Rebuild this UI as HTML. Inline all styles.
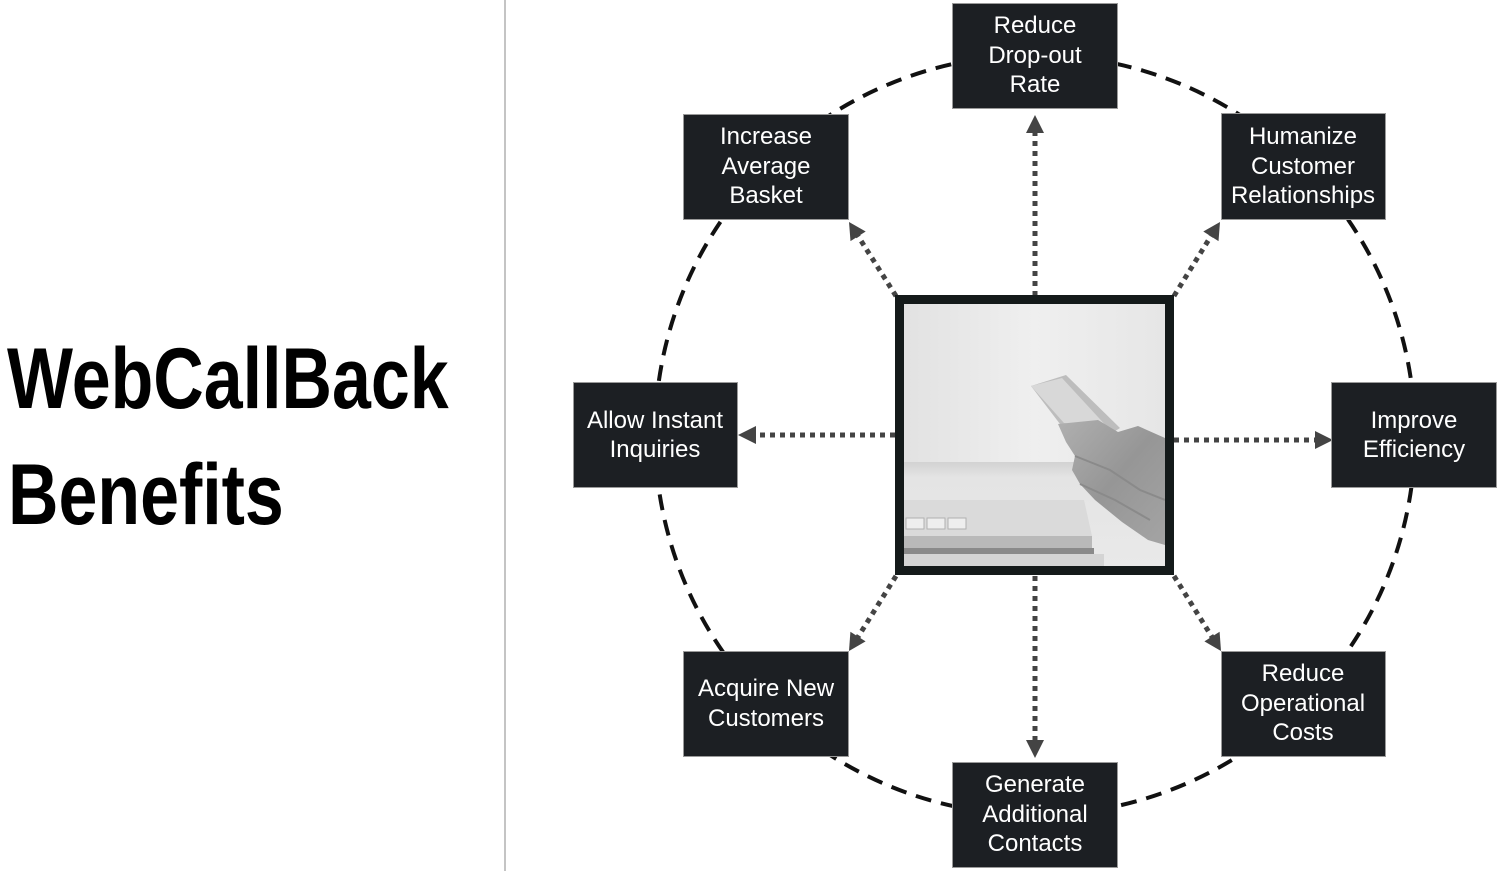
<!DOCTYPE html>
<html>
<head>
<meta charset="utf-8">
<style>
  html, body { margin: 0; padding: 0; background: #ffffff; }
  body { width: 1500px; height: 871px; overflow: hidden; position: relative; }
  svg { position: absolute; left: 0; top: 0; }
</style>
</head>
<body>
<svg width="1500" height="871" viewBox="0 0 1500 871" xmlns="http://www.w3.org/2000/svg">
  <defs>
    <clipPath id="imgclip"><rect x="904" y="304" width="261" height="262"/></clipPath>
    <linearGradient id="bgH" x1="0" y1="0" x2="1" y2="0">
      <stop offset="0" stop-color="#e2e2e2"/>
      <stop offset="0.5" stop-color="#efefef"/>
      <stop offset="1" stop-color="#e6e6e6"/>
    </linearGradient>
    <linearGradient id="table" x1="0" y1="0" x2="0" y2="1">
      <stop offset="0" stop-color="#d2d2d2"/>
      <stop offset="0.15" stop-color="#e4e4e4"/>
      <stop offset="1" stop-color="#e9e9e9"/>
    </linearGradient>
    <linearGradient id="hand" x1="0" y1="0" x2="1" y2="1">
      <stop offset="0" stop-color="#b0b0b0"/>
      <stop offset="0.5" stop-color="#969696"/>
      <stop offset="1" stop-color="#a4a4a4"/>
    </linearGradient>
  </defs>

  <!-- divider -->
  <rect x="504" y="0" width="2" height="871" fill="#c4c4c4"/>

  <!-- title -->
  <g font-family="'Liberation Sans', Arial, sans-serif" font-weight="bold" font-size="86" fill="#000">
    <text transform="translate(7,408) scale(0.813,1)" x="0" y="0">WebCallBack</text>
    <text transform="translate(8,524) scale(0.813,1)" x="0" y="0">Benefits</text>
  </g>

  <!-- dashed circle -->
  <circle cx="1035" cy="435" r="380" fill="none" stroke="#111" stroke-width="4" stroke-dasharray="16 10"/>

  <!-- dotted connectors -->
  <g stroke="#444" stroke-width="5" stroke-dasharray="5 5" fill="none">
    <line x1="1035" y1="296" x2="1035" y2="132"/>
    <line x1="1035" y1="576" x2="1035" y2="740"/>
    <line x1="895" y1="435" x2="756" y2="435"/>
    <line x1="1174" y1="440" x2="1316" y2="440"/>
    <line x1="896" y1="296" x2="858" y2="236"/>
    <line x1="1174" y1="296" x2="1211" y2="236"/>
    <line x1="896" y1="576" x2="858" y2="637"/>
    <line x1="1174" y1="576" x2="1212" y2="637"/>
  </g>
  <g fill="#444">
    <polygon points="1035,115 1026,133 1044,133"/>
    <polygon points="1035,758 1026,740 1044,740"/>
    <polygon points="738,435 756,426 756,444"/>
    <polygon points="1333,440 1315,431 1315,449"/>
    <polygon points="849,222 865.7,231.5 850.5,241.1"/>
    <polygon points="1220,222 1218.5,241.1 1203.3,231.5"/>
    <polygon points="849,651 865.6,641.4 850.4,631.8"/>
    <polygon points="1221,651 1204.4,641.4 1219.6,631.8"/>
  </g>

  <!-- center image -->
  <rect x="895" y="295" width="279" height="280" fill="#141a1a"/>
  <g clip-path="url(#imgclip)">
    <rect x="904" y="304" width="261" height="262" fill="url(#bgH)"/>
    <rect x="904" y="462" width="261" height="104" fill="url(#table)"/>
    <!-- laptop -->
    <rect x="904" y="548" width="190" height="6" fill="#8a8a8a"/>
    <rect x="904" y="554" width="200" height="12" fill="#d4d4d4"/>
    <polygon points="904,500 1084,500 1092,536 1092,546 904,546" fill="#dadada"/>
    <rect x="904" y="536" width="188" height="12" fill="#b9b9b9"/>
    <rect x="906" y="518" width="18" height="11" fill="#eeeeee" stroke="#b0b0b0" stroke-width="1"/>
    <rect x="927" y="518" width="18" height="11" fill="#eeeeee" stroke="#b0b0b0" stroke-width="1"/>
    <rect x="948" y="518" width="18" height="11" fill="#eeeeee" stroke="#b0b0b0" stroke-width="1"/>
    <!-- phone -->
    <polygon points="1031,386 1066,375 1120,428 1098,442 1060,424" fill="#bdbdbd"/>
    <polygon points="1031,386 1062,378 1110,430 1064,423" fill="#d8d8d8"/>
    <!-- hand -->
    <path d="M1058,424 L1098,420 L1118,432 L1138,426 L1165,438 L1165,545 L1148,540 L1122,522 L1095,500 L1080,484 L1072,470 L1075,456 L1066,442 Z" fill="url(#hand)"/>
    <path d="M1075,456 L1110,470 L1140,490 L1165,500" stroke="#8a8a8a" stroke-width="2" fill="none"/>
    <path d="M1080,484 L1115,500 L1150,520" stroke="#8a8a8a" stroke-width="2" fill="none"/>
  </g>

  <!-- boxes -->
  <g fill="#1c1f23" stroke="#9a9a9a" stroke-width="1">
    <rect x="952.5" y="3.5" width="165" height="105"/>
    <rect x="683.5" y="114.5" width="165" height="105"/>
    <rect x="1221.5" y="113.5" width="164" height="106"/>
    <rect x="573.5" y="382.5" width="164" height="105"/>
    <rect x="1331.5" y="382.5" width="165" height="105"/>
    <rect x="683.5" y="651.5" width="165" height="105"/>
    <rect x="1221.5" y="651.5" width="164" height="105"/>
    <rect x="952.5" y="762.5" width="165" height="105"/>
  </g>

  <g font-family="'Liberation Sans', Arial, sans-serif" font-size="24" fill="#ffffff" text-anchor="middle">
    <text x="1035" y="33">Reduce</text>
    <text x="1035" y="63">Drop-out</text>
    <text x="1035" y="92">Rate</text>

    <text x="766" y="144">Increase</text>
    <text x="766" y="174">Average</text>
    <text x="766" y="203">Basket</text>

    <text x="1303" y="144">Humanize</text>
    <text x="1303" y="174">Customer</text>
    <text x="1303" y="203">Relationships</text>

    <text x="655" y="428">Allow Instant</text>
    <text x="655" y="457">Inquiries</text>

    <text x="1414" y="428">Improve</text>
    <text x="1414" y="457">Efficiency</text>

    <text x="766" y="696">Acquire New</text>
    <text x="766" y="726">Customers</text>

    <text x="1303" y="681">Reduce</text>
    <text x="1303" y="711">Operational</text>
    <text x="1303" y="740">Costs</text>

    <text x="1035" y="792">Generate</text>
    <text x="1035" y="822">Additional</text>
    <text x="1035" y="851">Contacts</text>
  </g>
</svg>
</body>
</html>
